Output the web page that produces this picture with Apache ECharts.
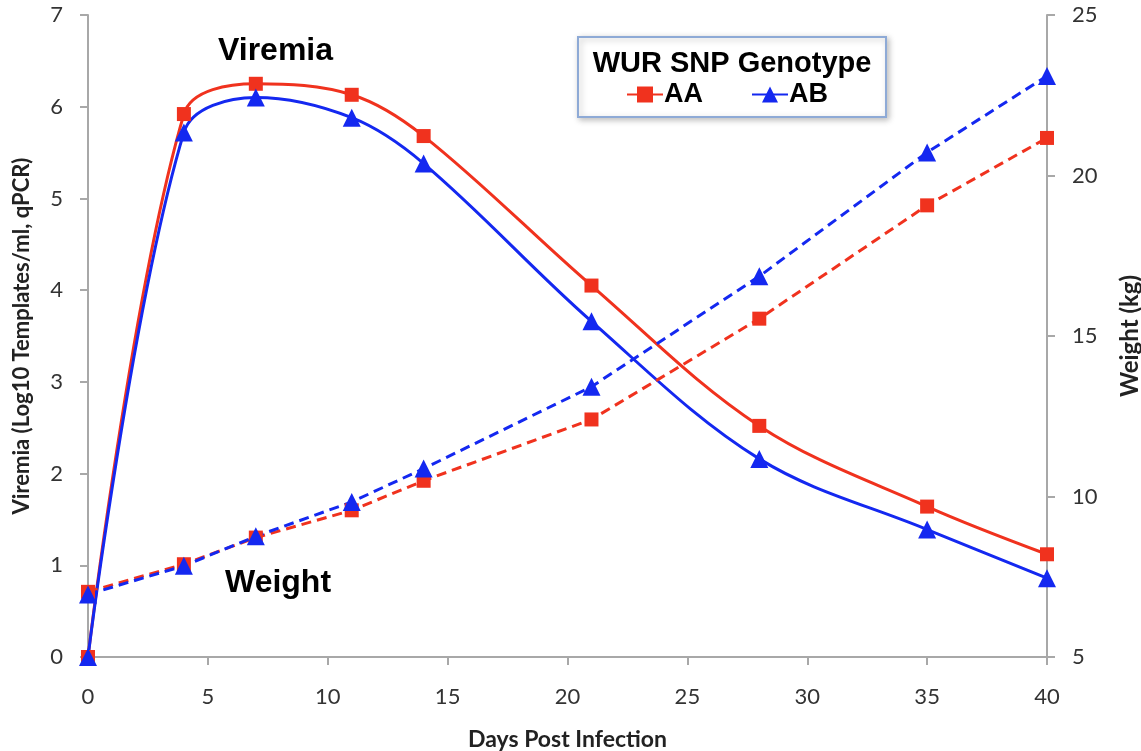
<!DOCTYPE html>
<html>
<head>
<meta charset="utf-8">
<script src="https://cdn.jsdelivr.net/npm/echarts@6/dist/echarts.min.js"></script>
<style>
  html, body { margin: 0; padding: 0; background: #fff; }
  #chart { width: 1141px; height: 751px; }
</style>
</head>
<body>
<div id="chart"></div>
<script>
// days post infection
const days = [0, 4, 7, 11, 14, 21, 28, 35, 40]

// viremia, log10 templates/ml
const viremiaAA = [0, 5.92, 6.25, 6.13, 5.68, 4.05, 2.52, 1.64, 1.12]
const viremiaAB = [0, 5.72, 6.10, 5.88, 5.38, 3.66, 2.16, 1.39, 0.86]

// weight, kg
const weightAA = [7.03, 7.89, 8.72, 9.57, 10.49, 12.40, 15.54, 19.07, 21.17]
const weightAB = [6.95, 7.84, 8.76, 9.83, 10.87, 13.42, 16.86, 20.72, 23.10]

const RED = '#f0321e'
const BLUE = '#1428f0'
const AXIS = '#a8a8a8'
const labelFont = { fontFamily: 'Lato', fontSize: 22, color: '#333' }
const nameFont = (size) => ({ fontFamily: 'Lato', fontSize: size, fontWeight: 'bold', color: '#222' })

const pairs = (ys) => days.map((d, i) => [d, ys[i]])

const chart = echarts.init(document.getElementById('chart'))

const option = {
  animation: false,
  backgroundColor: '#fff',
  grid: { left: 88, right: 94, top: 15, bottom: 94, outerBoundsMode: 'none', containLabel: false },
  title: {
    text: 'WUR SNP Genotype',
    left: 727,
    top: 44,
    textAlign: 'center',
    textStyle: { fontFamily: 'Liberation Sans', fontSize: 29, fontWeight: 'bold', color: '#000' }
  },
  legend: {
    data: ['AA', 'AB'],
    left: 578,
    top: 37,
    padding: [44, 58, 9, 48],
    itemGap: 48,
    itemWidth: 36,
    itemHeight: 20,
    backgroundColor: '#fff',
    borderColor: '#8eaad6',
    borderWidth: 2,
    shadowBlur: 6,
    shadowColor: 'rgba(0,0,0,0.25)',
    shadowOffsetX: 2,
    shadowOffsetY: 2,
    textStyle: { fontFamily: 'Liberation Sans', fontSize: 27, fontWeight: 'bold', color: '#000', padding: [0, 0, 0, -4] }
  },
  graphic: [
    {
      type: 'text', x: 218, y: 51,
      style: { text: 'Viremia', font: 'bold 32px "Liberation Sans"', fill: '#000', verticalAlign: 'middle' }
    },
    {
      type: 'text', x: 225, y: 583,
      style: { text: 'Weight', font: 'bold 32px "Liberation Sans"', fill: '#000', verticalAlign: 'middle' }
    }
  ],
  xAxis: {
    type: 'value',
    min: 0,
    max: 40,
    interval: 5,
    name: 'Days Post Infection',
    nameLocation: 'middle',
    nameGap: 71,
    nameTextStyle: nameFont(23),
    axisLine: { lineStyle: { color: AXIS, width: 2 } },
    axisTick: { length: 8, lineStyle: { color: AXIS, width: 2 } },
    axisLabel: Object.assign({ margin: 29 }, labelFont),
    splitLine: { show: false }
  },
  yAxis: [
    {
      type: 'value',
      min: 0,
      max: 7,
      interval: 1,
      name: 'Viremia (Log10 Templates/ml, qPCR)',
      nameLocation: 'middle',
      nameGap: 55,
      nameTextStyle: nameFont(22),
      axisLine: { show: true, lineStyle: { color: AXIS, width: 2 } },
      axisTick: { show: true, length: 8, lineStyle: { color: AXIS, width: 2 } },
      axisLabel: Object.assign({ margin: 25 }, labelFont),
      splitLine: { show: false }
    },
    {
      type: 'value',
      min: 5,
      max: 25,
      interval: 5,
      position: 'right',
      name: 'Weight (kg)',
      nameLocation: 'middle',
      nameGap: 71,
      nameTextStyle: nameFont(24),
      axisLine: { show: true, lineStyle: { color: AXIS, width: 2 } },
      axisTick: { show: true, length: 8, lineStyle: { color: AXIS, width: 2 } },
      axisLabel: Object.assign({ margin: 25 }, labelFont),
      splitLine: { show: false }
    }
  ],
  series: [
    {
      name: 'AA',
      type: 'line',
      yAxisIndex: 0,
      smooth: 0.35,
      data: pairs(viremiaAA),
      symbol: 'rect',
      symbolSize: 14,
      itemStyle: { color: RED },
      lineStyle: { color: RED, width: 3 }
    },
    {
      name: 'AB',
      type: 'line',
      yAxisIndex: 0,
      smooth: 0.35,
      data: pairs(viremiaAB),
      symbol: 'triangle',
      symbolSize: 18,
      itemStyle: { color: BLUE },
      lineStyle: { color: BLUE, width: 3 }
    },
    {
      name: 'AA',
      type: 'line',
      yAxisIndex: 1,
      data: pairs(weightAA),
      symbol: 'rect',
      symbolSize: 14,
      itemStyle: { color: RED },
      lineStyle: { color: RED, width: 3, type: [10, 6] }
    },
    {
      name: 'AB',
      type: 'line',
      yAxisIndex: 1,
      data: pairs(weightAB),
      symbol: 'triangle',
      symbolSize: 18,
      itemStyle: { color: BLUE },
      lineStyle: { color: BLUE, width: 3, type: [10, 6] }
    }
  ]
}

chart.setOption(option)
</script>
</body>
</html>
